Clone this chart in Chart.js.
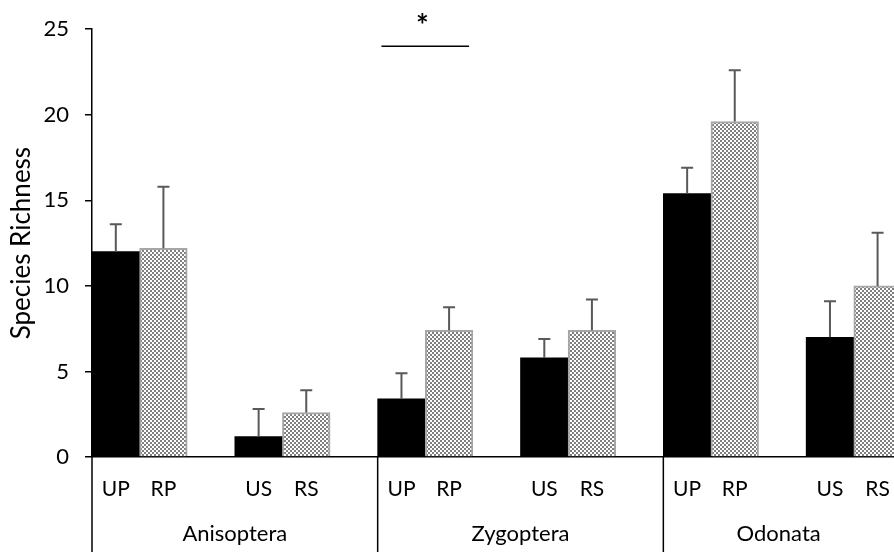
<!DOCTYPE html>
<html>
<head>
<meta charset="utf-8">
<script src="https://cdn.jsdelivr.net/npm/chart.js@4/dist/chart.umd.min.js"></script>
<style>
  html, body { margin: 0; padding: 0; background: #fff; }
  #wrap { width: 894px; height: 552px; overflow: hidden; position: relative; }
  canvas { display: block; }
</style>
</head>
<body>
<div id="wrap"><canvas id="chart" width="960" height="552"></canvas></div>
<script>
// Taxa and site types (U = unrestored, R = restored; P = pond, S = stream)
const groups = ["Anisoptera", "Zygoptera", "Odonata"];
const sites = ["UP", "RP", "US", "RS"];

// mean species richness and upper error per site, in the order of `sites`
const anisopteraMean = [12.0, 12.2, 1.2, 2.6];
const anisopteraErr  = [1.6, 3.6, 1.6, 1.3];
const zygopteraMean  = [3.4, 7.4, 5.8, 7.4];
const zygopteraErr   = [1.5, 1.35, 1.1, 1.8];
const odonataMean    = [15.4, 19.6, 7.0, 10.0];
const odonataErr     = [1.5, 3.0, 2.1, 3.1];

const yMin = 0, yMax = 25, yStep = 5;

// significant difference: Zygoptera UP vs RP, bracket drawn at y = 24
const sigGroup = 1, sigFrom = "UP", sigTo = "RP", sigLevel = 24, sigMark = "*";

const FONT = "Lato, 'Open Sans', sans-serif";
const VISIBLE_W = 894;

// each group gets UP, RP, gap, US, RS, gap
const slotSites = ["UP", "RP", "", "US", "RS", ""];
const means = [anisopteraMean, zygopteraMean, odonataMean];
const errs = [anisopteraErr, zygopteraErr, odonataErr];

const labels = [], values = [], upper = [], restored = [];
groups.forEach((g, gi) => {
    slotSites.forEach((s) => {
        labels.push(s);
        const k = sites.indexOf(s);
        values.push(k >= 0 ? means[gi][k] : null);
        upper.push(k >= 0 ? means[gi][k] + errs[gi][k] : null);
        restored.push(s.startsWith("R"));
    });
});

// fine grey/white checkerboard for the restored sites
function checker() {
    const c = document.createElement("canvas");
    c.width = 4; c.height = 4;
    const g = c.getContext("2d");
    g.fillStyle = "#ffffff"; g.fillRect(0, 0, 4, 4);
    g.fillStyle = "#7f7f7f"; g.fillRect(0, 0, 2, 2); g.fillRect(2, 2, 2, 2);
    return g.createPattern(c, "repeat");
}
const hatch = checker();

const errorBars = {
    id: "errorBars",
    afterDatasetsDraw(chart) {
        const { ctx, scales: { y } } = chart;
        const meta = chart.getDatasetMeta(0);
        ctx.save();
        ctx.strokeStyle = "#595959";
        ctx.lineWidth = 2;
        meta.data.forEach((bar, i) => {
            if (upper[i] == null) return;
            const top = y.getPixelForValue(upper[i]);
            ctx.beginPath();
            ctx.moveTo(bar.x, bar.y);
            ctx.lineTo(bar.x, top);
            ctx.moveTo(bar.x - 6, top);
            ctx.lineTo(bar.x + 6, top);
            ctx.stroke();
        });
        ctx.restore();
    }
};

// group separators, group names and the significance bracket
const groupAxis = {
    id: "groupAxis",
    afterDraw(chart) {
        const { ctx, chartArea, scales: { x, y } } = chart;
        const n = slotSites.length;
        const half = (x.getPixelForValue(1) - x.getPixelForValue(0)) / 2;
        ctx.save();
        ctx.strokeStyle = "#000";
        ctx.lineWidth = 1.5;
        ctx.fillStyle = "#000";
        ctx.font = "22px " + FONT;
        ctx.textAlign = "center";
        ctx.textBaseline = "middle";
        groups.forEach((g, gi) => {
            const start = x.getPixelForValue(gi * n) - half;
            const end = x.getPixelForValue(gi * n + n - 1) + half;
            ctx.beginPath();
            ctx.moveTo(start, chartArea.bottom);
            ctx.lineTo(start, chart.height);
            ctx.stroke();
            const cx = (start + Math.min(end, VISIBLE_W)) / 2;
            ctx.fillText(g, cx, chartArea.bottom + 77);
        });

        const a = x.getPixelForValue(sigGroup * n + slotSites.indexOf(sigFrom));
        const b = x.getPixelForValue(sigGroup * n + slotSites.indexOf(sigTo));
        const mid = (a + b) / 2;
        const ly = y.getPixelForValue(sigLevel);
        ctx.beginPath();
        ctx.moveTo(mid - half * 1.84, ly);
        ctx.lineTo(mid + half * 1.84, ly);
        ctx.stroke();
        ctx.font = "bold 30px " + FONT;
        ctx.fillText(sigMark, mid - 3, ly - 20);
        ctx.restore();
    }
};

new Chart(document.getElementById("chart"), {
    type: "bar",
    data: {
        labels,
        datasets: [{
            data: values,
            backgroundColor: restored.map((r) => r ? hatch : "#000000"),
            borderColor: restored.map((r) => r ? "#a6a6a6" : "#000000"),
            borderWidth: restored.map((r) => r ? 2 : 0),
            barPercentage: 1,
            categoryPercentage: 1,
        }],
    },
    options: {
        responsive: false,
        animation: false,
        layout: { padding: { top: 17, right: 11, left: 0, bottom: 0 } },
        plugins: { legend: { display: false }, tooltip: { enabled: false } },
        scales: {
            x: {
                grid: { display: false, drawTicks: false },
                border: { display: true, color: "#000", width: 1.5 },
                ticks: { color: "#000", font: { family: FONT, size: 21 }, padding: 20, maxRotation: 0, autoSkip: false },
                afterFit: (s) => { s.height = 95; },
            },
            y: {
                min: yMin, max: yMax,
                grid: { display: true, drawOnChartArea: false, drawTicks: true, tickLength: 7, color: "#000", lineWidth: 1.5 },
                border: { display: true, color: "#000", width: 1.5 },
                ticks: { stepSize: yStep, color: "#000", font: { family: FONT, size: 22 }, padding: 16 },
                title: { display: true, text: "Species Richness", color: "#000", font: { family: FONT, size: 26 }, padding: { top: 6, bottom: 0 } },
                afterFit: (s) => { s.width = 92; },
            },
        },
    },
    plugins: [errorBars, groupAxis],
});
</script>
</body>
</html>
